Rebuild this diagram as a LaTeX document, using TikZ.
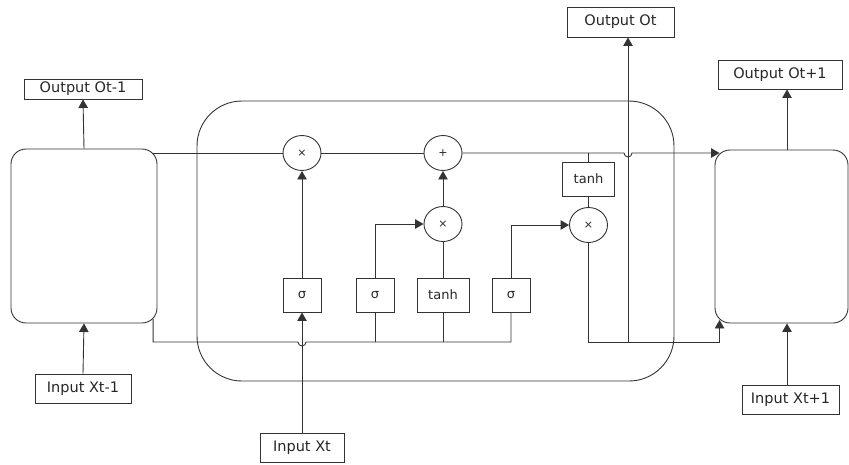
\documentclass[tikz,border=0pt]{standalone}
\usepackage{fontspec}
\setmainfont{DejaVu Sans}
\usetikzlibrary{arrows.meta,shapes.geometric,calc}
\begin{document}
\begin{tikzpicture}[x=1pt,y=-1pt,
  line width=0.9pt, draw=black!80,
  every node/.style={text=black!85, inner sep=0pt},
  cellbox/.style={draw, rounded corners=15pt},
  bigcell/.style={draw, rounded corners=45pt},
  label box/.style={draw, font=\fontsize{14.5}{16}\selectfont},
  gatebox/.style={draw, minimum height=34pt, font=\fontsize{13}{15}\selectfont},
  opnode/.style={draw, ellipse, minimum width=38pt, minimum height=35pt, font=\fontsize{11}{11}\selectfont},
  arr/.style={-{Triangle[length=8.5pt,width=9.5pt]}}]
\useasboundingbox (0,0) rectangle (849,464);

% neighbouring cells and the central cell
\node[cellbox, minimum width=146pt, minimum height=174pt] (lbox) at (84,236) {};
\node[cellbox, minimum width=133pt, minimum height=173pt] (rbox) at (781.5,236.5) {};
\node[bigcell, minimum width=477pt, minimum height=280pt] (cell) at (435.5,241) {};

% inputs and outputs
\node[label box, minimum width=118pt, minimum height=20pt] (outL) at (83,89) {Output Ot-1};
\node[label box, minimum width=96pt, minimum height=29pt] (inL) at (83,388.5) {Input Xt-1};
\node[label box, minimum width=84pt, minimum height=29pt] (inX) at (302,447.5) {Input Xt};
\node[label box, minimum width=107pt, minimum height=30pt] (outT) at (620.5,22) {Output Ot};
\node[label box, minimum width=124pt, minimum height=29pt] (outR) at (780,74.5) {Output Ot+1};
\node[label box, minimum width=97pt, minimum height=29pt] (inR) at (790.5,399.5) {Input Xt+1};

% pointwise operations
\node[opnode] (m1) at (302,153) {×};
\node[opnode] (p1) at (443,153) {+};
\node[opnode] (m2) at (443,224) {×};
\node[opnode] (m3) at (588.5,225) {×};

% gate layers
\node[gatebox, minimum width=38pt] (s1) at (302,295) {σ};
\node[gatebox, minimum width=38pt] (s2) at (375,295) {σ};
\node[gatebox, minimum width=52pt] (th1) at (443,295) {tanh};
\node[gatebox, minimum width=38pt] (s3) at (511,295) {σ};
\node[gatebox, minimum width=52pt] (th2) at (588.5,179) {tanh};

% helper coordinates
\coordinate (busY) at (0,342);
\coordinate (oT) at (628,0);
\coordinate (oR) at (787,0);
\coordinate (cL) at ($(lbox.south east)+(-4.4,-4.4)$);
\coordinate (cR) at ($(rbox.south west)+(5,-3.5)$);

% outputs of the neighbouring cells
\draw[arr] (lbox.north) -- (outL.south);
\draw[arr] (inL.north) -- (lbox.south);
\draw[arr] (rbox.north -| oR) -- (outR.south -| oR);
\draw[arr] (inR.north -| oR) -- (rbox.south -| oR);

% cell state line
\draw ([xshift=-5pt]lbox.east |- m1) -- (m1.west);
\draw (m1.east) -- (p1.west);
\draw[arr] (p1.east) -- ([xshift=-4pt]oT |- p1) arc[start angle=180, end angle=360, radius=4pt]
  -- ([xshift=5pt]rbox.west |- p1);

% hidden state bus feeding the gates
\draw (cL) -- (cL |- busY) -- ([xshift=-4pt]s1.south |- busY)
  arc[start angle=180, end angle=360, radius=4pt] -- (s3.south |- busY) -- (s3.south);
\draw (s2.south) -- (s2.south |- busY);
\draw (th1.south) -- (th1.south |- busY);
\draw[arr] (inX.north) -- (s1.south);

% gates
\draw[arr] (s1.north) -- (m1.south);
\draw[arr] (s2.north) |- (m2.west);
\draw (th1.north) -- (m2.south);
\draw[arr] (m2.north) -- (p1.south);
\draw[arr] (s3.north) |- (m3.west);
\draw (th2.north) -- (th2.north |- p1);
\draw (m3.north) -- (th2.south);

% new hidden state
\draw[arr] (m3.south) -- (m3.south |- busY) -- (cR |- busY) -- (cR);
\draw[arr] (oT |- busY) -- (outT.south -| oT);
\end{tikzpicture}
\end{document}
